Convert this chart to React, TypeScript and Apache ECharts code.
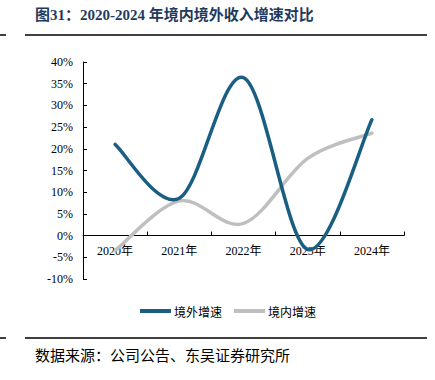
import React, { useEffect, useRef } from "react";
import * as echarts from "echarts";

const categories = ["2020年", "2021年", "2022年", "2023年", "2024年"];
const overseasGrowth = [21.0, 8.6, 36.4, -3.2, 26.7];
const domesticGrowth = [-3.5, 8.0, 2.8, 17.8, 23.6];
const yTicks = { min: -10, max: 40, interval: 5 };

const FONT = "'Liberation Serif', 'Times New Roman', 'Noto Sans CJK SC', serif";

// Excel-like smooth line (Catmull-Rom -> cubic Bezier), positioned by the chart's own scales via api.coord
function smoothSeries(name: string, values: number[], color: string, z: number) {
  return {
    name,
    type: "custom",
    data: values.map((v, i) => [i, v]),
    encode: { x: 0, y: 1 },
    itemStyle: { color },
    z,
    renderItem: (params: any, api: any) => {
      if (params.dataIndex !== 0) return null;
      const pts = values.map((v, i) => api.coord([i, v]));
      let d = `M${pts[0][0]},${pts[0][1]}`;
      for (let i = 0; i < pts.length - 1; i++) {
        const p0 = pts[i - 1] || pts[i];
        const p1 = pts[i];
        const p2 = pts[i + 1];
        const p3 = pts[i + 2] || pts[i + 1];
        const c1x = p1[0] + (p2[0] - p0[0]) / 6;
        const c1y = p1[1] + (p2[1] - p0[1]) / 6;
        const c2x = p2[0] - (p3[0] - p1[0]) / 6;
        const c2y = p2[1] - (p3[1] - p1[1]) / 6;
        d += ` C${c1x},${c1y} ${c2x},${c2y} ${p2[0]},${p2[1]}`;
      }
      return {
        type: "path",
        shape: { pathData: d },
        style: { stroke: color, lineWidth: 3.5, fill: "none", lineCap: "round", lineJoin: "round" },
      };
    },
  };
}

export default function App() {
  const ref = useRef<HTMLDivElement>(null);
  useEffect(() => {
    if (!ref.current) return;
    const chart = echarts.init(ref.current, undefined, { renderer: "svg" });
    chart.setOption({
      animation: false,
      backgroundColor: "#ffffff",
      grid: { left: 83, right: 31, top: 62, bottom: 101, containLabel: false },
      xAxis: {
        type: "category",
        data: categories,
        boundaryGap: true,
        axisLine: { onZero: true, lineStyle: { color: "#000", width: 1 } },
        axisTick: { show: true, inside: true, length: 4, lineStyle: { color: "#000" } },
        axisLabel: { color: "#000", fontSize: 12, fontFamily: FONT, margin: -34 },
        splitLine: { show: false },
      },
      yAxis: {
        type: "value",
        min: yTicks.min,
        max: yTicks.max,
        interval: yTicks.interval,
        axisLine: { show: true, lineStyle: { color: "#000", width: 1 } },
        axisTick: { show: true, inside: true, length: 4, lineStyle: { color: "#000" } },
        axisLabel: { color: "#000", fontSize: 12, fontFamily: FONT, margin: 10, formatter: "{value}%" },
        splitLine: { show: false },
      },
      legend: {
        left: 135,
        top: 300,
        icon: "rect",
        itemWidth: 31,
        itemHeight: 4,
        itemGap: 12,
        textStyle: { color: "#000", fontSize: 12, fontFamily: "'Noto Sans CJK SC', sans-serif", padding: [0, 0, 0, -2] },
        data: ["境外增速", "境内增速"],
      },
      series: [
        smoothSeries("境外增速", overseasGrowth, "#1a5f82", 3),
        smoothSeries("境内增速", domesticGrowth, "#bfbfbf", 2),
      ],
      graphic: [
        {
          type: "text",
          left: 35,
          top: 7,
          style: {
            text: "图31：2020-2024 年境内境外收入增速对比",
            fill: "#1f3a60",
            font: "bold 15px 'Liberation Serif', 'Noto Sans CJK SC', serif",
          },
        },
        { type: "line", shape: { x1: 25, y1: 35, x2: 427, y2: 35 }, style: { stroke: "#000", lineWidth: 1.5 } },
        { type: "line", shape: { x1: 0, y1: 35, x2: 6, y2: 35 }, style: { stroke: "#000", lineWidth: 1.5 } },
        { type: "line", shape: { x1: 25, y1: 338, x2: 427, y2: 338 }, style: { stroke: "#000", lineWidth: 1.5 } },
        { type: "line", shape: { x1: 0, y1: 338, x2: 6, y2: 338 }, style: { stroke: "#000", lineWidth: 1.5 } },
        {
          type: "text",
          left: 35,
          top: 347,
          style: {
            text: "数据来源：公司公告、东吴证券研究所",
            fill: "#000",
            font: "15px 'Noto Sans CJK SC', sans-serif",
          },
        },
      ],
    });
    return () => chart.dispose();
  }, []);
  return <div ref={ref} style={{ width: 435, height: 380, position: "absolute", left: 0, top: 0 }} />;
}
